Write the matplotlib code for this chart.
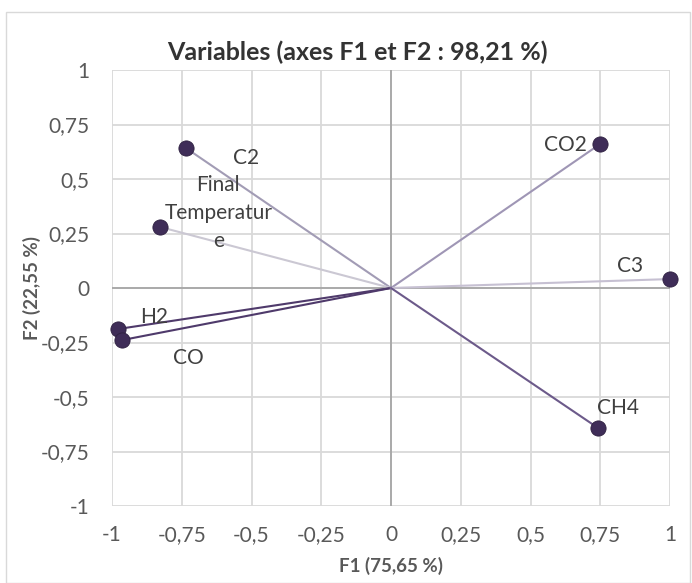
import matplotlib.pyplot as plt
from matplotlib.patches import Rectangle

plt.rcParams["font.family"] = ["Lato", "DejaVu Sans"]

variables = ["C2", "Final\nTemperatur\ne", "H2", "CO", "CO2", "C3", "CH4"]
f1 = [-0.735, -0.828, -0.978, -0.964, 0.749, 1.0, 0.742]
f2 = [0.642, 0.280, -0.188, -0.239, 0.660, 0.041, -0.642]
line_colors = ["#A29CB5", "#CBC8D3", "#4F3A6B", "#4F3A6B", "#9F96B5", "#C6C0D2", "#6C5A8A"]
# label offsets from the point, in points
label_offsets = [(43, -7), (42, 10), (26, 8.6), (48, -13), (-25, -0.7), (-29, 9.4), (14.4, 14.4)]

ticks = [-1, -0.75, -0.5, -0.25, 0, 0.25, 0.5, 0.75, 1]
tick_labels = ["-1", "-0,75", "-0,5", "-0,25", "0", "0,25", "0,5", "0,75", "1"]

fig = plt.figure(figsize=(6.92, 5.83), dpi=100)
fig.patches.append(Rectangle((6 / 692, 0), 684 / 692, 1 - 12 / 583, transform=fig.transFigure,
                             fill=False, edgecolor="#D9D9D9", lw=1))
ax = fig.add_axes([112 / 692, 1 - 506 / 583, 558 / 692, 436 / 583])

ax.set_xlim(-1, 1)
ax.set_ylim(-1, 1)
for t in ticks:
    ax.axvline(t, color="#D9D9D9", lw=1.3, zorder=0)
    ax.axhline(t, color="#D9D9D9", lw=1.3, zorder=0)
ax.axvline(0, color="#A6A6A6", lw=1.3, zorder=1)
ax.axhline(0, color="#A6A6A6", lw=1.3, zorder=1)

for name, x, y, c, off in zip(variables, f1, f2, line_colors, label_offsets):
    ax.plot([0, x], [0, y], color=c, lw=1.5, zorder=2)
    ax.scatter([x], [y], s=120, color="#3F2D58", edgecolors="#2E2040", lw=0.6, zorder=3, clip_on=False)
    ax.annotate(name, (x, y), xytext=off, textcoords="offset points", ha="center", va="center",
                fontsize=15, color="#404040", linespacing=1.5, zorder=4)

for s in ax.spines.values():
    s.set_visible(False)
ax.set_xticks(ticks)
ax.set_xticklabels(tick_labels)
ax.set_yticks(ticks)
ax.set_yticklabels(tick_labels)
ax.tick_params(length=0, labelsize=15, labelcolor="#595959")
ax.tick_params(axis="y", pad=16)
ax.tick_params(axis="x", pad=14)

ax.set_xlabel("F1 (75,65 %)", fontsize=13.5, fontweight="bold", color="#595959")
ax.set_ylabel("F2 (22,55 %)", fontsize=13.5, fontweight="bold", color="#595959")
ax.xaxis.set_label_coords(0.5, -0.138)
ax.yaxis.set_label_coords(-0.143, 0.5)
ax.xaxis.label.set_va("center")
ax.yaxis.label.set_va("center")
fig.text(357 / 692, 1 - 52 / 583, "Variables (axes F1 et F2 : 98,21 %)", ha="center", va="center",
         fontsize=18, fontweight="bold", color="#333333")

fig.savefig("out.png", dpi=100)
